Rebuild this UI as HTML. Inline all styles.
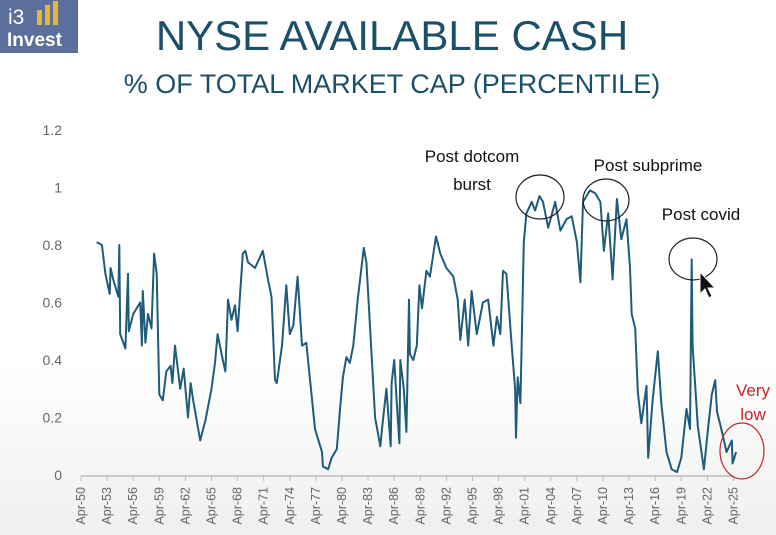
<!DOCTYPE html>
<html><head><meta charset="utf-8"><style>
html,body{margin:0;padding:0;width:776px;height:535px;overflow:hidden;font-family:"Liberation Sans",sans-serif;}
body{background:linear-gradient(#fff 0,#fff 360px,#efefef 535px);}
</style></head><body>
<svg width="776" height="535" style="position:absolute;left:0;top:0">
<g>
<rect x="0" y="0" width="78" height="53" fill="#5b6f9c"/>
<text x="8" y="24" fill="#fff" font-size="21" font-family="Liberation Sans">i3</text>
<rect x="37" y="10" width="5" height="15" fill="#e8b43a"/><rect x="45" y="5" width="5" height="20" fill="#e8b43a"/><rect x="53" y="1" width="5" height="24" fill="#e8b43a"/>
<text x="7" y="46" fill="#fff" font-size="19" font-weight="bold" font-family="Liberation Sans">Invest</text>
</g>
<text x="392" y="50" text-anchor="middle" fill="#1c5068" font-size="42" font-family="Liberation Sans">NYSE AVAILABLE CASH</text>
<text x="392" y="93" text-anchor="middle" fill="#1c5068" font-size="27" font-family="Liberation Sans">% OF TOTAL MARKET CAP (PERCENTILE)</text>
<g id="yaxis"></g>
<g id="xaxis"></g>
<path id="line" fill="none" stroke="#1f5b7a" stroke-width="2" stroke-linejoin="round"/>
<g font-family="Liberation Sans" font-size="17" fill="#111">
<text x="472" y="162" text-anchor="middle">Post dotcom</text>
<text x="472" y="190" text-anchor="middle">burst</text>
<text x="648" y="171" text-anchor="middle">Post subprime</text>
<text x="701" y="220" text-anchor="middle">Post covid</text>
<ellipse cx="540" cy="197" rx="24" ry="22" fill="none" stroke="#222" stroke-width="1.2"/>
<ellipse cx="606" cy="200" rx="23" ry="21" fill="none" stroke="#222" stroke-width="1.2"/>
<ellipse cx="693" cy="259" rx="24" ry="21" fill="none" stroke="#222" stroke-width="1.2"/>
<ellipse cx="742" cy="451" rx="22" ry="28" fill="none" stroke="#c0282d" stroke-width="1.2"/>
<text x="753" y="396" text-anchor="middle" fill="#c0282d">Very</text>
<text x="753" y="420" text-anchor="middle" fill="#c0282d">low</text>
<path d="M700 272 L700 294 L705 289 L709 298 L712 296 L708 288 L715 288 Z" fill="#111" stroke="#fff" stroke-width="1"/>
</g>
</svg>
<script>
const years=[1951.8,1952.4,1952.8,1953.3,1953.4,1953.7,1954.3,1954.4,1954.5,1955.1,1955.4,1955.5,1956.0,1956.8,1957.0,1957.1,1957.4,1957.7,1958.1,1958.4,1958.7,1959.0,1959.4,1959.8,1960.3,1960.5,1960.8,1961.4,1961.8,1962.3,1962.6,1962.9,1963.3,1963.7,1964.3,1965.0,1965.4,1965.7,1966.3,1966.6,1966.9,1967.3,1967.7,1968.0,1968.6,1968.9,1969.2,1970.0,1970.3,1970.9,1971.5,1971.9,1972.3,1972.5,1973.1,1973.6,1974.0,1974.4,1974.9,1975.4,1975.9,1976.9,1977.7,1977.8,1978.4,1978.8,1979.4,1979.8,1980.1,1980.5,1980.9,1981.3,1981.8,1982.5,1982.8,1983.8,1984.4,1984.7,1985.1,1985.6,1985.7,1986.0,1986.3,1986.6,1986.7,1987.1,1987.4,1987.7,1987.8,1988.2,1988.6,1988.9,1989.2,1989.7,1990.1,1990.8,1991.3,1992.0,1992.8,1993.3,1993.6,1994.1,1994.5,1994.9,1995.5,1996.2,1996.8,1997.4,1997.8,1998.2,1998.5,1998.9,1999.5,1999.9,2000.0,2000.2,2000.5,2000.9,2001.2,2001.8,2002.2,2002.7,2003.1,2003.7,2004.5,2005.1,2005.8,2006.4,2007.0,2007.4,2007.7,2008.5,2009.1,2009.7,2010.1,2010.6,2011.1,2011.6,2012.1,2012.7,2013.1,2013.3,2013.7,2014.0,2014.4,2015.0,2015.2,2015.7,2016.3,2016.7,2017.3,2017.9,2018.5,2019.0,2019.6,2020.0,2020.2,2020.3,2020.9,2021.6,2022.1,2022.5,2022.9,2023.1,2023.6,2024.2,2024.8,2024.9,2025.3];
const values=[0.81,0.80,0.70,0.63,0.72,0.68,0.62,0.80,0.49,0.44,0.70,0.50,0.56,0.60,0.45,0.64,0.46,0.56,0.51,0.77,0.70,0.28,0.26,0.36,0.38,0.32,0.45,0.30,0.37,0.20,0.32,0.26,0.19,0.12,0.19,0.30,0.39,0.49,0.40,0.36,0.61,0.54,0.59,0.50,0.77,0.78,0.74,0.72,0.74,0.78,0.68,0.62,0.33,0.32,0.45,0.66,0.49,0.52,0.69,0.45,0.46,0.16,0.08,0.03,0.02,0.06,0.09,0.24,0.34,0.41,0.39,0.45,0.61,0.79,0.74,0.20,0.10,0.19,0.30,0.10,0.32,0.40,0.25,0.11,0.40,0.30,0.15,0.61,0.42,0.40,0.45,0.66,0.58,0.71,0.69,0.83,0.77,0.72,0.69,0.61,0.47,0.61,0.45,0.64,0.49,0.60,0.61,0.45,0.55,0.49,0.71,0.70,0.45,0.30,0.13,0.34,0.25,0.81,0.91,0.95,0.92,0.97,0.95,0.86,0.95,0.85,0.89,0.90,0.81,0.67,0.95,0.99,0.98,0.95,0.78,0.91,0.68,0.96,0.82,0.89,0.72,0.56,0.51,0.29,0.18,0.31,0.06,0.26,0.43,0.25,0.08,0.02,0.01,0.06,0.23,0.16,0.75,0.45,0.17,0.02,0.17,0.28,0.33,0.22,0.16,0.08,0.12,0.04,0.08];
const yTicks=[0,0.2,0.4,0.6,0.8,1,1.2];
const xTickYears=[1950,1953,1956,1959,1962,1965,1968,1971,1974,1977,1980,1983,1986,1989,1992,1995,1998,2001,2004,2007,2010,2013,2016,2019,2022,2025];
const NS='http://www.w3.org/2000/svg';
function xS(y){return 81+(y-1950)*26.1/3;}
function yS(v){return 475-v*287.5;}
const ya=document.getElementById('yaxis');
yTicks.forEach(t=>{const e=document.createElementNS(NS,'text');


e.setAttribute('x',62);e.setAttribute('y',yS(t)+5);e.setAttribute('text-anchor','end');e.setAttribute('font-size','14');e.setAttribute('fill','#666');e.textContent=String(t);ya.appendChild(e);});
const xa=document.getElementById('xaxis');
const ax=document.createElementNS(NS,'line');


ax.setAttribute('x1',xS(1950));ax.setAttribute('x2',xS(2025));ax.setAttribute('y1',476);ax.setAttribute('y2',476);ax.setAttribute('stroke','#bbb');ax.setAttribute('stroke-width','1.5');xa.appendChild(ax);
xTickYears.forEach(yr=>{const x=xS(yr);
const tk=document.createElementNS(NS,'line');


tk.setAttribute('x1',x);tk.setAttribute('x2',x);tk.setAttribute('y1',476);tk.setAttribute('y2',481);tk.setAttribute('stroke','#bbb');xa.appendChild(tk);
const e=document.createElementNS(NS,'text');


e.setAttribute('transform','translate('+(x+4)+',487) rotate(-90)');e.setAttribute('text-anchor','end');e.setAttribute('font-size','12.5');e.setAttribute('fill','#666');e.textContent='Apr-'+String(yr%100).padStart(2,'0');xa.appendChild(e);});
document.getElementById('line').setAttribute('d',years.map((y,i)=>(i?'L':'M')+xS(y).toFixed(1)+' '+yS(values[i]).toFixed(1)).join(' '));
</script>
</body></html>
